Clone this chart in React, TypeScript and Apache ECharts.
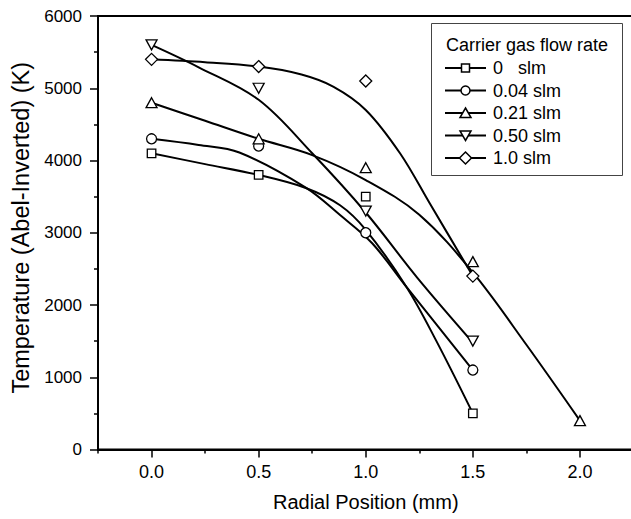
import React, { useEffect, useRef } from "react";
import * as echarts from "echarts";

// ---- data ----
const seriesNames = ["0   slm", "0.04 slm", "0.21 slm", "0.50 slm", "1.0 slm"];
const legendTitle = "Carrier gas flow rate";
const xTickValues = [0, 0.5, 1, 1.5, 2];
const xMinorTickValues = [-0.25, 0.25, 0.75, 1.25, 1.75, 2.25];

// measured points
const pts0 = [[0, 4100], [0.5, 3800], [1, 3500], [1.5, 500]];
const pts1 = [[0, 4300], [0.5, 4200], [1, 3000], [1.5, 1100]];
const pts2 = [[0, 4800], [0.5, 4300], [1, 3900], [1.5, 2600], [2, 400]];
const pts3 = [[0, 5600], [0.5, 5000], [1, 3300], [1.5, 1500]];
const pts4 = [[0, 5400], [0.5, 5300], [1, 5100], [1.5, 2400]];

// fitted curves
const fit0 = [[0, 4100], [0.25, 3950], [0.5, 3800], [0.72, 3620], [0.88, 3380], [1.0, 3040], [1.19, 2250], [1.33, 1500], [1.5, 500]];
const fit1 = [[0, 4300], [0.22, 4214], [0.41, 4110], [0.72, 3625], [0.88, 3245], [1.03, 2854], [1.19, 2250], [1.5, 1100]];
const fit2 = [[0, 4800], [0.25, 4550], [0.5, 4300], [0.75, 4075], [1.0, 3730], [1.25, 3250], [1.5, 2450], [1.75, 1450], [2.0, 400]];
const fit3 = [[0, 5600], [0.22, 5290], [0.5, 4840], [0.75, 4100], [1.0, 3280], [1.24, 2380], [1.5, 1480]];
const fit4 = [[0, 5400], [0.25, 5360], [0.5, 5300], [0.7, 5190], [0.85, 5020], [1.0, 4700], [1.16, 4100], [1.3, 3400], [1.5, 2400]];

const allPts = [pts0, pts1, pts2, pts3, pts4];
const allFits = [fit0, fit1, fit2, fit3, fit4];

const symbols = ["rect", "circle", "triangle", "triangle", "diamond"];
const symbolSizes: any[] = [8.5, 10, [11, 10], [11, 10], [12, 12]];
const symbolRotates = [0, 0, 0, 180, 0];

const FONT = "'Liberation Sans', Arial, sans-serif";

function legendMarker(i: number, cx: number, cy: number) {
  const style = { fill: "#fff", stroke: "#000", lineWidth: 1.5 };
  if (i === 0) return { type: "rect", shape: { x: cx - 4, y: cy - 4, width: 8, height: 8 }, style };
  if (i === 1) return { type: "circle", shape: { cx, cy, r: 4.5 }, style };
  if (i === 2)
    return { type: "polygon", shape: { points: [[cx, cy - 5], [cx + 5.5, cy + 4.5], [cx - 5.5, cy + 4.5]] }, style };
  if (i === 3)
    return { type: "polygon", shape: { points: [[cx, cy + 5], [cx + 5.5, cy - 4.5], [cx - 5.5, cy - 4.5]] }, style };
  return { type: "polygon", shape: { points: [[cx, cy - 6], [cx + 6, cy], [cx, cy + 6], [cx - 6, cy]] }, style };
}

export default function App() {
  const ref = useRef<HTMLDivElement>(null);
  useEffect(() => {
    if (!ref.current) return;
    const chart = echarts.init(ref.current, undefined, { renderer: "svg" });

    const series: any[] = [];
    allFits.forEach((fit, i) => {
      series.push({
        type: "line",
        name: seriesNames[i] + " fit",
        data: fit,
        showSymbol: false,
        smooth: 0.35,
        lineStyle: { color: "#000", width: 2 },
        z: 2,
        silent: true,
      });
    });
    allPts.forEach((pts, i) => {
      series.push({
        type: "scatter",
        name: seriesNames[i],
        data: pts,
        symbol: symbols[i],
        symbolSize: symbolSizes[i],
        symbolRotate: symbolRotates[i],
        itemStyle: { color: "#fff", borderColor: "#000", borderWidth: 1.3, opacity: 1 },
        z: 3,
      });
    });

    const legendEls: any[] = [
      { type: "rect", shape: { x: 431.5, y: 23.5, width: 191, height: 152 }, style: { fill: "#fff", stroke: "#444", lineWidth: 1 }, z: 10 },
      { type: "text", x: 446, y: 45, style: { text: legendTitle, font: `18px ${FONT}`, fill: "#000", textVerticalAlign: "middle" }, z: 11 },
    ];
    seriesNames.forEach((nm, i) => {
      const cy = 68 + i * 22.5;
      legendEls.push({ type: "line", shape: { x1: 445, y1: cy, x2: 486, y2: cy }, style: { stroke: "#000", lineWidth: 2 }, z: 11 });
      legendEls.push({ ...legendMarker(i, 465.5, cy), z: 12 });
      legendEls.push({ type: "text", x: 493, y: cy, style: { text: nm, font: `18px ${FONT}`, fill: "#000", textVerticalAlign: "middle" }, z: 11 });
    });

    chart.setOption({
      animation: false,
      backgroundColor: "#fff",
      textStyle: { fontFamily: FONT },
      grid: { left: 98, right: 6.5, top: 16, bottom: 69.5, show: true, borderColor: "#000", borderWidth: 2, backgroundColor: "transparent" },
      xAxis: [
        {
          type: "value",
          min: -0.25,
          max: 2.25,
          position: "bottom",
          name: "Radial Position (mm)",
          nameLocation: "middle",
          nameGap: 42,
          nameTextStyle: { fontSize: 20, color: "#000", fontFamily: FONT },
          axisLine: { show: true, onZero: false, lineStyle: { color: "#000", width: 2 } },
          axisTick: { show: true, customValues: xTickValues, length: 8, lineStyle: { color: "#000", width: 1.5 } },
          axisLabel: { show: true, customValues: xTickValues, formatter: (v: number) => v.toFixed(1), fontSize: 18, color: "#000", margin: 13, fontFamily: FONT },
          splitLine: { show: false },
        },
        {
          type: "value",
          min: -0.25,
          max: 2.25,
          position: "bottom",
          axisLine: { show: false, onZero: false },
          axisTick: { show: true, customValues: xMinorTickValues, length: 4, lineStyle: { color: "#000", width: 1.5 } },
          axisLabel: { show: false },
          splitLine: { show: false },
        },
      ],
      yAxis: {
        type: "value",
        min: 0,
        max: 6000,
        interval: 1000,
        name: "Temperature (Abel-Inverted) (K)",
        nameLocation: "middle",
        nameRotate: 90,
        nameGap: 65,
        nameTextStyle: { fontSize: 23.5, color: "#000", fontFamily: FONT, padding: [0, 0, 0, 10] },
        axisLine: { show: true, onZero: false, lineStyle: { color: "#000", width: 2 } },
        axisTick: { show: true, length: 8, lineStyle: { color: "#000", width: 1.5 } },
        minorTick: { show: true, splitNumber: 2, length: 4, lineStyle: { color: "#000", width: 1.5 } },
        axisLabel: { fontSize: 17, color: "#000", margin: 16, fontFamily: FONT, formatter: (v: number) => String(v) },
        splitLine: { show: false },
      },
      graphic: legendEls,
      series,
    });
    return () => chart.dispose();
  }, []);

  return (
    <div style={{ position: "fixed", left: 0, top: 0, width: 631, height: 519, overflow: "hidden", background: "#fff" }}>
      <div ref={ref} style={{ width: 640, height: 519 }} />
    </div>
  );
}
